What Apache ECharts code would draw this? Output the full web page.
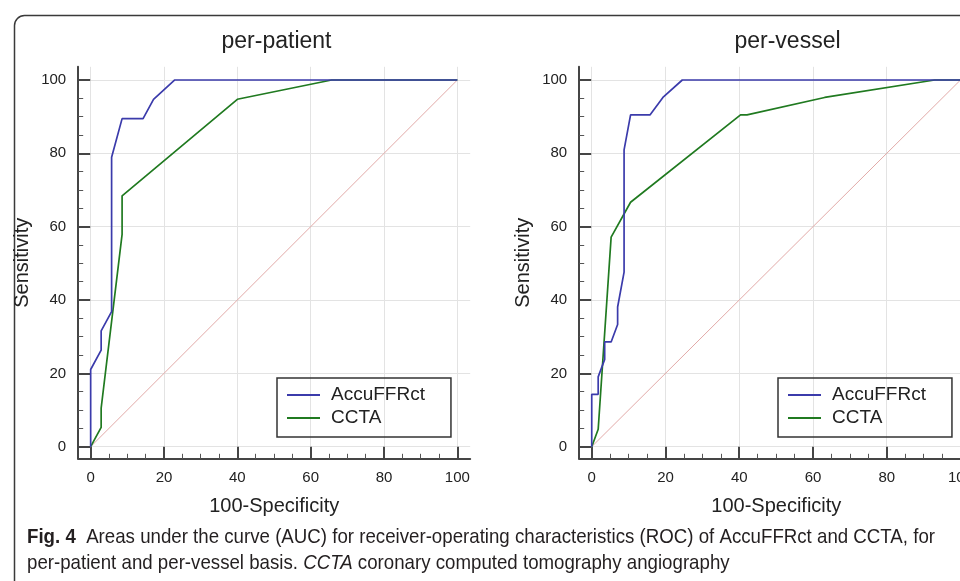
<!DOCTYPE html>
<html>
<head>
<meta charset="utf-8">
<script src="https://cdn.jsdelivr.net/npm/echarts@6/dist/echarts.min.js"></script>
<style>
  html, body { margin: 0; padding: 0; background: #fff; }
  #main { width: 960px; height: 581px; }
</style>
</head>
<body>
<div id="main"></div>
<script>
// per-patient ROC points (100-Specificity, Sensitivity)
var patientAccuX = [0, 0, 2.86, 2.86, 5.71, 5.71, 8.57, 14.29, 17.14, 22.86, 100];
var patientAccuY = [0, 21.05, 26.32, 31.58, 36.84, 78.95, 89.47, 89.47, 94.74, 100, 100];
var patientCctaX = [0, 2.86, 2.86, 8.57, 8.57, 40, 65.71, 100];
var patientCctaY = [0, 5.26, 10.53, 57.89, 68.42, 94.74, 100, 100];

// per-vessel ROC points
var vesselAccuX = [0, 0, 1.75, 1.75, 3.51, 3.51, 5.26, 7.02, 7.02, 8.77, 8.77, 10.53, 15.79, 19.3, 24.56, 100];
var vesselAccuY = [0, 14.29, 14.29, 19.05, 23.81, 28.57, 28.57, 33.33, 38.1, 47.62, 80.95, 90.48, 90.48, 95.24, 100, 100];
var vesselCctaX = [0, 1.75, 5.26, 10.53, 40.35, 42.11, 63.16, 92.98, 100];
var vesselCctaY = [0, 4.76, 57.14, 66.67, 90.48, 90.48, 95.24, 100, 100];

var diagonal = [0, 100];
var majorTicks = [0, 20, 40, 60, 80, 100];
var minorTicks = [5, 10, 15, 25, 30, 35, 45, 50, 55, 65, 70, 75, 85, 90, 95];
var panelTitles = ['per-patient', 'per-vessel'];
var seriesNames = ['AccuFFRct', 'CCTA'];

var captionBold = 'Fig. 4';
var captionLine1 = '  Areas under the curve (AUC) for receiver-operating characteristics (ROC) of AccuFFRct and CCTA, for';
var captionLine2a = 'per-patient and per-vessel basis. ';
var captionItalic = 'CCTA';
var captionLine2b = ' coronary computed tomography angiography';

function zip(xs, ys) {
    var out = [];
    for (var i = 0; i < xs.length; i++) out.push([xs[i], ys[i]]);
    return out;
}

var myChart = echarts.init(document.getElementById('main'));

var FONT = 'Liberation Sans, Arial, sans-serif';
var AXIS_COLOR = '#454545';
var gridLefts = [78.2, 579.2];
var gridWidths = [392, 394.2];

// caption font is condensed in the figure; squeeze Liberation Sans to the same line width
var CAP_SIZE = 21;
var ctx = document.createElement('canvas').getContext('2d');
ctx.font = 'bold ' + CAP_SIZE + 'px Liberation Sans';
var wBold = ctx.measureText(captionBold).width;
ctx.font = CAP_SIZE + 'px Liberation Sans';
var wRest = ctx.measureText(captionLine1).width;
var capScale = 908 / (wBold + wRest);

function axesFor(i, dim) {
    var isX = dim === 'x';
    var major = {
        gridIndex: i,
        type: 'value',
        min: isX ? -3.4 : -3.3,
        max: isX ? 103.5 : 103.6,
        position: isX ? 'bottom' : 'left',
        axisLine: { show: true, onZero: false, lineStyle: { color: AXIS_COLOR, width: 2 } },
        axisTick: { show: true, inside: true, length: 12, customValues: majorTicks,
                    lineStyle: { color: AXIS_COLOR, width: 2 } },
        axisLabel: { customValues: majorTicks, fontFamily: FONT, fontSize: 15, color: '#222', margin: 12 },
        splitLine: { show: true, lineStyle: { color: '#e3e3e3', width: 1 } },
        name: isX ? '100-Specificity' : 'Sensitivity',
        nameLocation: 'middle',
        nameGap: isX ? 38 : 46,
        nameTextStyle: { fontFamily: FONT, fontSize: 20, color: '#222' }
    };
    var minor = {
        gridIndex: i,
        type: 'value',
        min: major.min,
        max: major.max,
        position: isX ? 'bottom' : 'left',
        axisLine: { show: false, onZero: false },
        axisTick: { show: true, inside: true, length: 5, customValues: minorTicks,
                    lineStyle: { color: '#555', width: 1 } },
        axisLabel: { show: false },
        splitLine: { show: false }
    };
    return [major, minor];
}

var xAxes = [], yAxes = [], grids = [], titles = [], legends = [], series = [];
[0, 1].forEach(function (i) {
    grids.push({ left: gridLefts[i], top: 66.8, width: gridWidths[i], height: 392, outerBoundsMode: 'none', containLabel: false });
    xAxes = xAxes.concat(axesFor(i, 'x'));
    yAxes = yAxes.concat(axesFor(i, 'y'));
    titles.push({
        text: panelTitles[i], left: i === 0 ? 271.5 : 782.5, top: 25, textAlign: 'center',
        textStyle: { fontFamily: FONT, fontSize: 23, fontWeight: 'normal', color: '#222' }
    });
    legends.push({
        data: seriesNames, orient: 'vertical', left: i === 0 ? 277 : 778, top: 378,
        icon: 'rect', itemWidth: 33, itemHeight: 2, itemGap: 3,
        padding: [7, 26, 9, 10], borderColor: '#333', borderWidth: 1.5, borderRadius: 0,
        textStyle: { fontFamily: FONT, fontSize: 19, color: '#222', lineHeight: 20, padding: [0, 0, 0, 6] },
        selectedMode: false
    });
});

var lineColors = { AccuFFRct: '#3b3bab', CCTA: '#207a20' };
var panels = [
    [zip(patientAccuX, patientAccuY), zip(patientCctaX, patientCctaY)],
    [zip(vesselAccuX, vesselAccuY), zip(vesselCctaX, vesselCctaY)]
];
[0, 1].forEach(function (i) {
    series.push({
        type: 'line', xAxisIndex: i * 2, yAxisIndex: i * 2, data: zip(diagonal, diagonal),
        symbol: 'none', silent: true, z: 1,
        lineStyle: { color: '#e2aaa8', width: 1 }
    });
    seriesNames.forEach(function (name, k) {
        series.push({
            name: name, type: 'line', xAxisIndex: i * 2, yAxisIndex: i * 2, data: panels[i][k],
            symbol: 'none', z: 3 - k,
            lineStyle: { color: lineColors[name], width: 1.7 },
            itemStyle: { color: lineColors[name] }
        });
    });
});

myChart.setOption({
    backgroundColor: '#fff',
    animation: false,
    title: titles,
    legend: legends,
    grid: grids,
    xAxis: xAxes,
    yAxis: yAxes,
    series: series,
    graphic: [
        {
            type: 'rect', left: 12, top: 13, silent: true,
            shape: { width: 980, height: 600, r: 10 },
            style: { fill: 'none', stroke: '#3a3a3a', lineWidth: 1.5 }
        },
        {
            type: 'text', x: 27, y: 524, scaleX: capScale, silent: true,
            style: {
                text: '{b|' + captionBold + '}' + captionLine1 + '\n' + captionLine2a + '{i|' + captionItalic + '}' + captionLine2b,
                fontFamily: 'Liberation Sans', fontSize: CAP_SIZE, lineHeight: 26, fill: '#231f20',
                rich: {
                    b: { fontFamily: 'Liberation Sans', fontSize: CAP_SIZE, fontWeight: 'bold', fill: '#231f20', lineHeight: 26 },
                    i: { fontFamily: 'Liberation Sans', fontSize: CAP_SIZE, fontStyle: 'italic', fill: '#231f20', lineHeight: 26 }
                }
            }
        }
    ]
});
</script>
</body>
</html>
